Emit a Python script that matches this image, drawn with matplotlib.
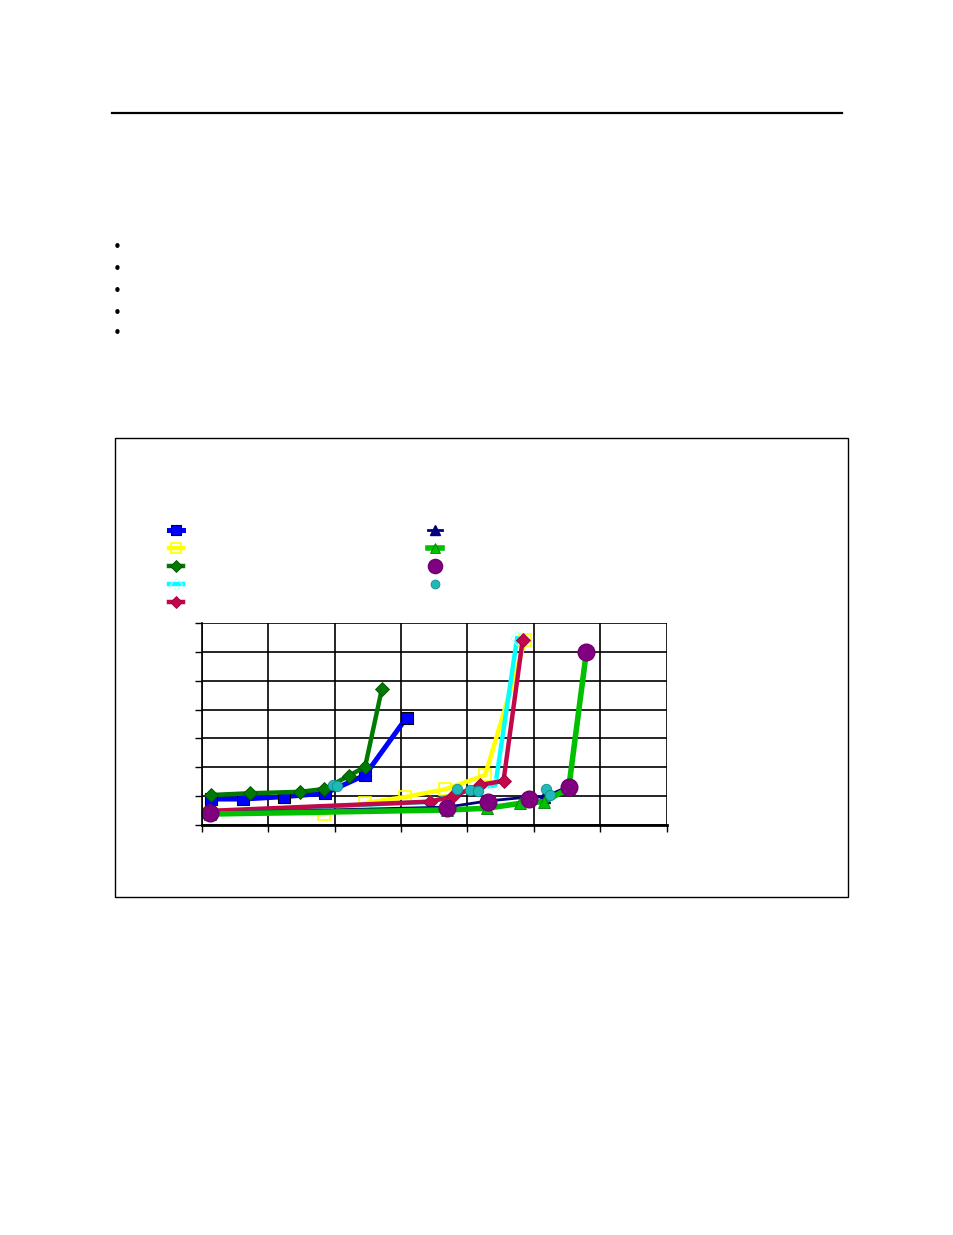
import matplotlib
matplotlib.use("Agg")
import matplotlib.pyplot as plt
from matplotlib.lines import Line2D
from matplotlib.patches import Rectangle

# ---- data (grid units x: 0..350 step 50, y: 0..70 step 10) ----
blue_x = [6.6, 31.1, 61.6, 92.8, 122.9, 154.1]
blue_y = [9.0, 9.0, 9.8, 11.0, 17.3, 37.2]

yellow_x = [6.0, 92.2, 122.9, 153.1, 183.3, 213.4, 243.6]
yellow_y = [4.2, 3.8, 7.6, 9.7, 12.4, 17.3, 64.1]

dgreen_x = [6.6, 36.2, 73.9, 92.2, 110.9, 122.9, 135.5]
dgreen_y = [10.4, 11.0, 11.5, 12.5, 17.1, 20.2, 47.1]

cyan_x = [6.0, 171.9, 209.6, 221.0, 237.4]
cyan_y = [4.7, 8.0, 13.2, 13.7, 64.7]

crimson_x = [6.0, 171.9, 189.5, 209.6, 227.2, 241.6]
crimson_y = [4.9, 8.1, 10.0, 13.9, 15.3, 64.1]

navy_x = [6.0, 184.6, 215.0, 245.9, 258.0, 276.8, 289.6]
navy_y = [4.2, 6.2, 8.3, 9.7, 9.7, 13.5, 59.9]

green_x = [6.0, 184.6, 214.5, 239.8, 257.9, 276.3, 289.6]
green_y = [3.8, 5.2, 5.8, 7.5, 8.1, 12.7, 59.9]

purple_x = [6.0, 184.6, 215.2, 246.1, 276.8, 289.6]
purple_y = [4.2, 5.8, 7.9, 8.9, 13.1, 59.9]

teal_x = [99.0, 101.6, 192.1, 201.6, 207.9, 259.2, 262.4]
teal_y = [13.9, 13.5, 12.4, 12.1, 11.9, 12.4, 10.4]

x_ticks = [0, 50, 100, 150, 200, 250, 300, 350]
y_ticks = [0, 10, 20, 30, 40, 50, 60, 70]

W, H = 954, 1235
fig = plt.figure(figsize=(W / 100, H / 100), dpi=100)

# page rule
fig.add_artist(Line2D([112 / W, 842 / W], [1 - 113 / H] * 2, color="black", lw=1.6))
# bullets
for yb in [247, 269, 291, 313, 334]:
    fig.text(117 / W, 1 - yb / H, "•", fontsize=11, ha="center", va="center", color="black")
# chart frame
fig.add_artist(Rectangle((115 / W, 1 - 897 / H), (848 - 115) / W, (897 - 438) / H,
                         transform=fig.transFigure, fill=False, edgecolor="black", lw=1.0))

ax = fig.add_axes([202 / W, 1 - 825 / H, (666.5 - 202) / W, (825 - 623) / H])
ax.set_xlim(0, 350)
ax.set_ylim(0, 70)
ax.set_xticks(x_ticks)
ax.set_yticks(y_ticks)
ax.set_xticklabels([])
ax.set_yticklabels([])
ax.tick_params(direction="out", length=5, width=1, color="black")
ax.grid(True, color="black", lw=1.2)
ax.set_axisbelow(True)
for s in ["top", "right"]:
    ax.spines[s].set_visible(False)
ax.spines["left"].set_linewidth(1.2)
ax.spines["bottom"].set_linewidth(2.0)

h = []
h.append(ax.plot(blue_x, blue_y, color="#0000ff", lw=3.6, marker="s", ms=9,
                 mfc="#0000ff", mec="black", mew=0.8, clip_on=False)[0])
h.append(ax.plot(yellow_x, yellow_y, color="#ffff00", lw=3.2, marker="s", ms=9,
                 mfc="none", mec="#ffff00", mew=1.2, clip_on=False)[0])
h.append(ax.plot(dgreen_x, dgreen_y, color="#007a00", lw=3.2, marker="D", ms=7,
                 mfc="#007a00", mec="#005000", mew=0.6, clip_on=False)[0])
h.append(ax.plot(cyan_x, cyan_y, color="#00ffff", lw=3.2, marker="D", ms=7,
                 mfc="none", mec="#c0ffff", mew=0.6, clip_on=False)[0])
h.append(ax.plot(crimson_x, crimson_y, color="#c0084a", lw=3.2, marker="D", ms=7,
                 mfc="#c0084a", mec="#a00040", mew=0.6, clip_on=False)[0])
h.append(ax.plot(navy_x, navy_y, color="#000080", lw=2.0, marker="^", ms=8,
                 mfc="#000080", mec="#000080", clip_on=False)[0])
h.append(ax.plot(green_x, green_y, color="#00c000", lw=4.0, marker="^", ms=8,
                 mfc="#00c000", mec="#008000", mew=0.6, clip_on=False)[0])
h.append(ax.plot(purple_x, purple_y, ls="none", marker="o", ms=12,
                 mfc="#800080", mec="#700070", clip_on=False)[0])
h.append(ax.plot(teal_x, teal_y, ls="none", marker="o", ms=7.5,
                 mfc="#20b8b8", mec="#109090", mew=0.6, clip_on=False)[0])

common = dict(frameon=False, handlelength=1.0, labelspacing=0.29, borderpad=0,
              handletextpad=0.2, markerscale=0.85, loc="upper left")
legL = fig.legend(handles=h[:5], labels=[""] * 5,
                  bbox_to_anchor=(162 / W, 1 - 516.5 / H), **common)
legR = fig.legend(handles=h[5:], labels=[""] * 4,
                  bbox_to_anchor=(421 / W, 1 - 516.5 / H), **common)

fig.savefig("out.png", dpi=100)
